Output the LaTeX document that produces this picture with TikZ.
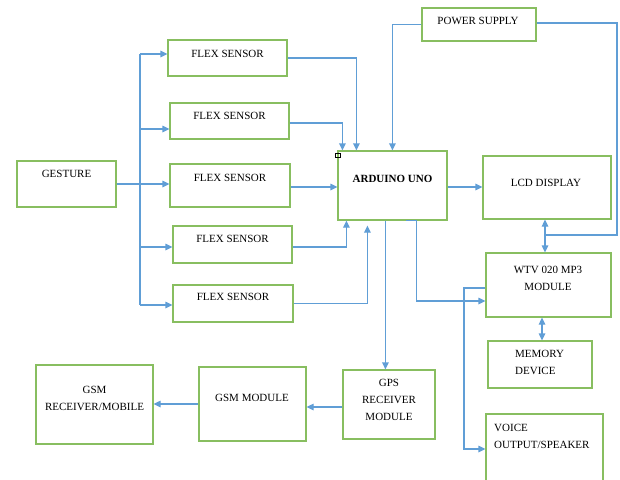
\documentclass[tikz,border=0pt]{standalone}
\usepackage{fontspec}
\setmainfont{Liberation Serif}
\usetikzlibrary{positioning,arrows.meta,calc}

\definecolor{boxgreen}{RGB}{136,190,96}
\definecolor{wireblue}{RGB}{96,158,214}

\begin{document}
\begin{tikzpicture}[x=1pt,y=-1pt,
  box/.style={draw=boxgreen,line width=1.2pt,fill=white,inner sep=0pt},
  lbl/.style={font=\fontsize{11}{17}\selectfont,inner sep=0pt,align=center},
  wire/.style={draw=wireblue,line width=1.2pt,-{Triangle[length=7pt,width=6.5pt]}},
  plainwire/.style={draw=wireblue,line width=1.2pt},
  dblwire/.style={draw=wireblue,line width=1.2pt,{Triangle[length=7pt,width=6.5pt]}-{Triangle[length=7pt,width=6.5pt]}}]
\clip (0,0) rectangle (620,479);
\fill[white] (0,0) rectangle (620,479);

% input side
\node[box,minimum width=99,minimum height=46] (gesture) at (66.5,184) {};
\node[lbl] (gesture-t) at (66.5,174) {GESTURE};
\foreach \n/\x/\y/\w/\h/\ty in {1/227.5/58/119/36/54, 2/229.5/121/119/36/116,
  3/230/185.5/120/43/178, 4/232.5/244.5/119/37/239, 5/233/303.5/120/37/297}{
  \node[box,minimum width=\w,minimum height=\h] (flex\n) at (\x,\y) {};
  \node[lbl] (flex\n-t) at (\x,\ty) {FLEX SENSOR};
}

% controller and power
\node[box,minimum width=109,minimum height=69] (ard) at (392.5,185.5) {};
\node[lbl,font=\fontsize{11}{17}\selectfont\bfseries] (ard-t) at (392.5,179) {ARDUINO UNO};
\node[draw=black,line width=0.5pt,minimum width=5,minimum height=4,inner sep=0pt] (handle) at (337.5,155.5) {};
\node[box,minimum width=114,minimum height=33] (psu) at (479,24.5) {};
\node[lbl] (psu-t) at (478,21) {POWER SUPPLY};

% output side
\node[box,minimum width=128,minimum height=63] (lcd) at (547,187.5) {};
\node[lbl] (lcd-t) at (546,183) {LCD DISPLAY};
\node[box,minimum width=125,minimum height=64] (wtv) at (548.5,285) {};
\node[lbl] (wtv-t) at (548,278.5) {WTV 020 MP3\\MODULE};
\node[box,minimum width=104,minimum height=47] (mem) at (540,364.5) {};
\node[lbl,align=left,anchor=west] (mem-t) at (515,362.5) {MEMORY\\DEVICE};
\node[box,minimum width=117,minimum height=86] (spk) at (544.5,457) {};
\node[lbl,align=left,anchor=west] (spk-t) at (494,436) {VOICE\\OUTPUT/SPEAKER};

% tracking chain
\node[box,minimum width=92,minimum height=69] (gps) at (389,404.5) {};
\node[lbl] (gps-t) at (389,400) {GPS\\RECEIVER\\MODULE};
\node[box,minimum width=107,minimum height=74] (gsm) at (252.5,404) {};
\node[lbl] (gsm-t) at (252,398) {GSM MODULE};
\node[box,minimum width=117,minimum height=79] (rcv) at (94.5,404.5) {};
\node[lbl] (rcv-t) at (94.5,398) {GSM\\RECEIVER/MOBILE};

% gesture bus
\coordinate (bus1) at (140,54);
\coordinate (bus2) at (140,129);
\coordinate (bus4) at (140,247);
\coordinate (bus5) at (140,305);
\draw[plainwire] (bus1) -- (bus5);
\draw[wire] (gesture.east) -- (gesture.east -| flex3.west);
\foreach \k in {1,2,4,5}{\draw[wire] (bus\k) -- (bus\k -| flex\k.west);}

% sensors to arduino
\draw[wire] (flex1.east) -| ([xshift=19pt]ard.north west);
\draw[wire] ([yshift=-2pt]flex2.east) -| ([xshift=5pt]ard.north west);
\draw[wire] ([yshift=-1.5pt]flex3.east) -- ([yshift=-1.5pt]flex3.east -| ard.west);
\draw[wire] ([yshift=-2.5pt]flex4.east) -| ([xshift=9pt]ard.south west);
\draw[wire] (flex5.east) -| ([xshift=30pt,yshift=-5pt]ard.south west);

% power lines
\coordinate (pwr-r) at (617,235);
\coordinate (lcd-b) at ([xshift=-2pt]lcd.south);
\draw[wire] (psu.west) -| ([xshift=55pt]ard.north west);
\draw[plainwire] ([yshift=1.5pt]psu.east) -| (pwr-r) -- (pwr-r -| lcd-b);

% arduino outputs
\draw[wire] ([yshift=-1.5pt]ard.east) -- ([yshift=-1.5pt]ard.east -| lcd.west);
\draw[dblwire] (lcd-b) -- (lcd-b |- wtv.north);
\draw[dblwire] ([xshift=2pt]mem.north) -- ([xshift=2pt]mem.north |- wtv.south);
\draw[wire] ([xshift=48pt]ard.south west) -- ([xshift=48pt]ard.south west |- gps.north);
\draw[wire] ([xshift=69pt]ard.south west) -- ([xshift=79pt]ard.south west)
  |- ([yshift=-16pt]wtv.west);
\coordinate (spk-l) at (464,449);
\draw[wire] ([yshift=-3pt]wtv.west) -| (spk-l) -- (spk-l -| spk.west);

% tracking chain links
\draw[wire] ([yshift=-2.5pt]gps.west) -- ([yshift=-2.5pt]gps.west -| gsm.east);
\draw[wire] (gsm.west) -- (gsm.west -| rcv.east);
\end{tikzpicture}
\end{document}
